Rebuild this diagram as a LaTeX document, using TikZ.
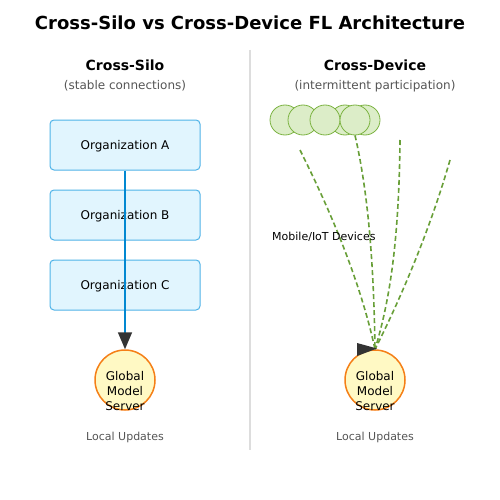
\documentclass[tikz,border=0pt]{standalone}
\usepackage{fontspec}
\setmainfont{DejaVu Sans}
\usetikzlibrary{arrows.meta}
\definecolor{orgfill}{HTML}{E1F5FE}
\definecolor{orgline}{HTML}{4FB3E8}
\definecolor{bluearrow}{HTML}{0288D1}
\definecolor{srvfill}{HTML}{FFF9C4}
\definecolor{srvline}{HTML}{F57F17}
\definecolor{devfill}{HTML}{DCEDC8}
\definecolor{devline}{HTML}{7CB342}
\definecolor{dashgreen}{HTML}{689F38}
\definecolor{subgray}{HTML}{555555}
\definecolor{divgray}{HTML}{DDDDDD}
\definecolor{tipgray}{HTML}{333333}
\tikzset{
  orgbox/.style={draw=orgline, fill=orgfill, line width=1pt, rounded corners=4pt,
    minimum width=150pt, minimum height=50pt, inner sep=0pt, text depth=0pt, font=\fontsize{12}{14}\selectfont},
  server/.style={circle, draw=srvline, fill=srvfill, line width=1.5pt, minimum size=60pt,
    inner sep=0pt},
  servertext/.style={align=center, inner sep=0pt, font=\fontsize{12}{15}\selectfont},
  device/.style={circle, draw=devline, fill=devfill, line width=0.8pt, minimum size=30pt, inner sep=0pt},
  titletext/.style={text depth=0pt, font=\fontsize{18}{20}\bfseries\selectfont},
  headtext/.style={text depth=0pt, font=\fontsize{14}{16}\bfseries\selectfont},
  subtext/.style={text=subgray, font=\fontsize{12}{14}\selectfont},
  smalltext/.style={text=subgray, text depth=0pt, font=\fontsize{11}{13}\selectfont},
  devlink/.style={draw=dashgreen, line width=1.6pt, dash pattern=on 5pt off 3pt},
}
\begin{document}
\begin{tikzpicture}[x=1pt,y=-1pt]
\useasboundingbox (0,0) rectangle (500,500);
\fill[white] (0,0) rectangle (500,500);
\node[titletext] (title) at (250,23) {Cross-Silo vs Cross-Device FL Architecture};
\draw[divgray, line width=1.5pt] (250,50) -- (250,450);

% Left: cross-silo
\node[headtext] (lh) at (125,65) {Cross-Silo};
\node[subtext] (ls) at (125,86) {(stable connections)};
\node[orgbox] (oa) at (125,145) {Organization A};
\node[orgbox] (ob) at (125,215) {Organization B};
\node[orgbox] (oc) at (125,285) {Organization C};
\node[server] (ls1) at (125,380) {};
\node[servertext] (lt) at (125,391) {Global\\Model\\Server};
\draw[bluearrow, line width=1.6pt, -{Triangle[length=17pt,width=14pt,color=tipgray]}] (oa.south) -- (ls1.north);
\node[smalltext] (lu) at (125,436) {Local Updates};

% Right: cross-device
\node[headtext] (rh) at (375,65) {Cross-Device};
\node[subtext] (rs) at (375,86) {(intermittent participation)};
\node[device] (d1) at (285,120) {};
\node[device] (d2) at (303,120) {};
\node[device] (d3) at (345,120) {};
\node[device] (d4) at (325,120) {};
\node[device] (d5) at (365,120) {};
\node[device] (d6) at (355,120) {};
\node[server] (rs1) at (375,380) {};
\node[servertext] (rt) at (375,391) {Global\\Model\\Server};
\coordinate (s1) at (300,150);
\coordinate (s3) at (400,140);
\coordinate (s4) at (450,160);
\draw[devlink] (s1) .. controls (330,210) and (360,280) .. (rs1.north);
\draw[devlink] (d6.south) .. controls (370,200) and (374,280) .. (rs1.north);
\draw[devlink] (s3) .. controls (399,240) and (390,300) .. (rs1.north);
\draw[devlink] (s4) .. controls (430,230) and (400,300) .. (rs1.north);
\fill[tipgray] (357,343) -- (377,348.5) -- (357,356) -- cycle;
\node[font=\fontsize{11}{13}\selectfont, anchor=west, inner sep=0pt] (ml) at (272,237) {Mobile/IoT Devices};
\node[smalltext] (ru) at (375,436) {Local Updates};
\end{tikzpicture}
\end{document}
